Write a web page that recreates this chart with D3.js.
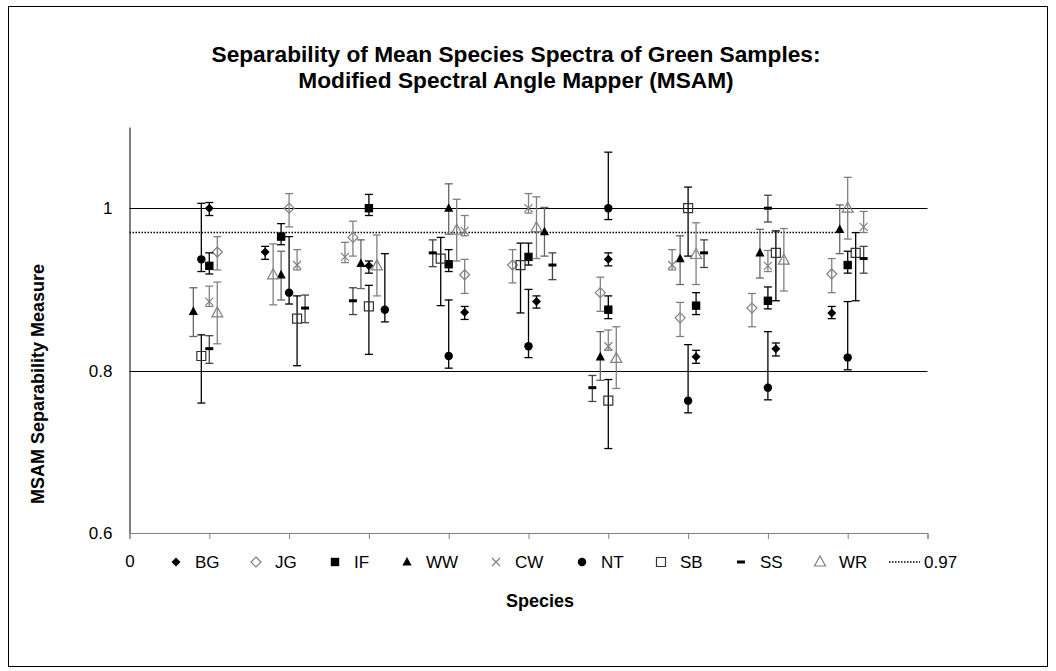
<!DOCTYPE html>
<html>
<head>
<meta charset="utf-8">
<script src="https://cdn.jsdelivr.net/npm/d3@7"></script>
<style>
  body { margin: 0; background: #fff; }
  svg text { font-family: "Liberation Sans", Arial, sans-serif; fill: #000; }
</style>
</head>
<body>
<div id="chart"></div>
<script>
// species (series) in legend order
const species = ["BG", "JG", "IF", "WW", "CW", "NT", "SB", "SS", "WR"];

// x position of every point, one row per species, one column per group
const xPositions = [
    [1.0, 1.7, 3.0, 4.2, 5.1, 6.0, 7.1, 8.1, 8.8],
    [1.1, 2.0, 2.8, 4.2, 4.8, 5.9, 6.9, 7.8, 8.8],
    [1.0, 1.9, 3.0, 4.0, 5.0, 6.0, 7.1, 8.0, 9.0],
    [0.8, 1.9, 2.9, 4.0, 5.2, 5.9, 6.9, 7.9, 8.9],
    [1.0, 2.1, 2.7, 4.2, 5.0, 6.0, 6.8, 8.0, 9.2],
    [0.9, 2.0, 3.2, 4.0, 5.0, 6.0, 7.0, 8.0, 9.0],
    [0.9, 2.1, 3.0, 3.9, 4.9, 6.0, 7.0, 8.1, 9.1],
    [1.0, 2.2, 2.8, 3.8, 5.3, 5.8, 7.2, 8.0, 9.2],
    [1.1, 1.8, 3.1, 4.1, 5.1, 6.1, 7.1, 8.2, 9.0]
];

// mean MSAM separability
const means = [
    [1.000, 0.946, 0.929, 0.872, 0.885, 0.937, 0.817, 0.827, 0.871],
    [0.946, 1.000, 0.964, 0.918, 0.930, 0.896, 0.865, 0.877, 0.919],
    [0.929, 0.965, 1.000, 0.931, 0.940, 0.875, 0.880, 0.886, 0.930],
    [0.873, 0.918, 0.932, 1.000, 0.971, 0.817, 0.938, 0.945, 0.974],
    [0.885, 0.930, 0.940, 0.972, 1.000, 0.830, 0.930, 0.929, 0.977],
    [0.937, 0.896, 0.875, 0.818, 0.830, 1.000, 0.763, 0.779, 0.816],
    [0.818, 0.864, 0.879, 0.938, 0.930, 0.763, 1.000, 0.945, 0.945],
    [0.827, 0.877, 0.886, 0.945, 0.930, 0.779, 0.945, 1.000, 0.938],
    [0.871, 0.918, 0.929, 0.973, 0.976, 0.815, 0.943, 0.936, 1.000]
];

// top of the error bar
const highs = [
    [1.007, 0.953, 0.935, 0.879, 0.892, 0.945, 0.825, 0.834, 0.879],
    [0.965, 1.018, 0.984, 0.937, 0.949, 0.915, 0.884, 0.895, 0.938],
    [0.945, 0.981, 1.017, 0.949, 0.957, 0.892, 0.896, 0.903, 0.947],
    [0.902, 0.947, 0.961, 1.030, 1.001, 0.848, 0.966, 0.974, 1.004],
    [0.904, 0.949, 0.958, 0.991, 1.018, 0.850, 0.949, 0.948, 0.996],
    [1.006, 0.965, 0.944, 0.887, 0.900, 1.069, 0.832, 0.848, 0.885],
    [0.844, 0.892, 0.905, 0.964, 0.957, 0.789, 1.026, 0.972, 0.970],
    [0.843, 0.893, 0.902, 0.961, 0.945, 0.794, 0.961, 1.016, 0.953],
    [0.909, 0.956, 0.967, 1.011, 1.014, 0.854, 0.982, 0.975, 1.038]
];

// bottom of the error bar
const lows = [
    [0.991, 0.937, 0.920, 0.863, 0.877, 0.929, 0.809, 0.818, 0.864],
    [0.924, 0.977, 0.941, 0.895, 0.908, 0.873, 0.842, 0.854, 0.896],
    [0.919, 0.955, 0.991, 0.922, 0.930, 0.864, 0.869, 0.876, 0.920],
    [0.842, 0.887, 0.901, 0.968, 0.941, 0.788, 0.906, 0.914, 0.944],
    [0.879, 0.924, 0.933, 0.966, 0.994, 0.825, 0.924, 0.922, 0.970],
    [0.922, 0.882, 0.860, 0.803, 0.816, 0.986, 0.748, 0.764, 0.801],
    [0.760, 0.806, 0.820, 0.880, 0.871, 0.704, 0.941, 0.886, 0.886],
    [0.809, 0.859, 0.869, 0.928, 0.912, 0.762, 0.927, 0.983, 0.920],
    [0.833, 0.881, 0.892, 0.935, 0.938, 0.778, 0.906, 0.898, 0.962]
];

const threshold = 0.97;
const thresholdRange = [0, 8.9];
const yTicks = [0.6, 0.8, 1.0];
const gridValues = [0.8, 1.0];

// marker look per species
const markerStyle = {
    BG: { path: "M0,-4.5L4.5,0L0,4.5L-4.5,0Z", fill: "#000", stroke: "none", bar: "#000" },
    JG: { path: "M0,-5L5,0L0,5L-5,0Z", fill: "none", stroke: "#808080", bar: "#808080" },
    IF: { path: "M-4.2,-4.2H4.2V4.2H-4.2Z", fill: "#000", stroke: "none", bar: "#000" },
    WW: { path: "M0,-5L4.6,3.6L-4.6,3.6Z", fill: "#000", stroke: "none", bar: "#666" },
    CW: { path: "M-4,-4L4,4M4,-4L-4,4", fill: "none", stroke: "#808080", bar: "#808080" },
    NT: { path: d3.symbol(d3.symbolCircle, 56)(), fill: "#000", stroke: "none", bar: "#000" },
    SB: { path: "M-4.5,-4.5H4.5V4.5H-4.5Z", fill: "none", stroke: "#333", bar: "#000" },
    SS: { path: "M-4,-1.5H4V1.5H-4Z", fill: "#000", stroke: "none", bar: "#444" },
    WR: { path: "M0,-6L5.5,4L-5.5,4Z", fill: "none", stroke: "#808080", bar: "#808080" }
};

const W = 1056, H = 671;
const svg = d3.select("#chart").append("svg")
    .attr("width", W)
    .attr("height", H);

// outer chart border
svg.append("rect")
    .attr("x", 8.5).attr("y", 6.5)
    .attr("width", 1039).attr("height", 660)
    .attr("fill", "#fff").attr("stroke", "#000").attr("stroke-width", 1);

const xScale = d3.scaleLinear().domain([0, 10]).range([129.5, 927.5]);
const yScale = d3.scaleLinear().domain([0.6, 1.1]).range([533, 127]);

// title
svg.append("text")
    .attr("x", 516).attr("y", 0)
    .attr("text-anchor", "middle")
    .style("font-size", "22.7px").style("font-weight", "bold")
    .selectAll("tspan")
    .data(["Separability of Mean Species Spectra of Green Samples:", "Modified Spectral Angle Mapper (MSAM)"])
    .enter().append("tspan")
    .attr("x", 516)
    .attr("y", (d, i) => 62 + i * 26)
    .text(d => d);

// gridlines
svg.selectAll(".grid")
    .data(gridValues)
    .enter().append("line")
    .attr("class", "grid")
    .attr("x1", xScale(0)).attr("x2", xScale(10))
    .attr("y1", d => Math.round(yScale(d)) + 0.5)
    .attr("y2", d => Math.round(yScale(d)) + 0.5)
    .attr("stroke", "#000").attr("stroke-width", 1);

// y axis
const yAxis = svg.append("g")
    .attr("transform", `translate(${xScale(0)},0)`)
    .call(d3.axisLeft(yScale)
        .tickValues(yTicks)
        .tickSize(0)
        .tickSizeOuter(0)
        .tickPadding(17)
        .tickFormat(d => d === 1 ? "1" : d3.format(".1f")(d)));
yAxis.select(".domain").attr("stroke", "#000");
yAxis.selectAll("text").style("font-size", "17px").style("font-family", "Liberation Sans, Arial, sans-serif");

// x axis (only the 0 label is left visible, legend sits on top of the rest)
const xAxis = svg.append("g")
    .attr("transform", `translate(0,${yScale(0.6)})`)
    .call(d3.axisBottom(xScale)
        .ticks(10)
        .tickSize(6)
        .tickSizeOuter(6)
        .tickPadding(16)
        .tickFormat(d => d === 0 ? "0" : ""));
xAxis.select(".domain").attr("stroke", "#808080");
xAxis.selectAll(".tick line").attr("stroke", "#808080");
xAxis.selectAll("text").style("font-size", "17px").style("font-family", "Liberation Sans, Arial, sans-serif");

// 0.97 reference line
svg.append("line")
    .attr("x1", xScale(thresholdRange[0])).attr("x2", xScale(thresholdRange[1]))
    .attr("y1", yScale(threshold)).attr("y2", yScale(threshold))
    .attr("stroke", "#000").attr("stroke-width", 1.5)
    .attr("stroke-dasharray", "1.5,1.5");

// series: error bars then markers
species.forEach((sp, s) => {
    const st = markerStyle[sp];
    const pts = means[s].map((m, g) => ({ x: xPositions[s][g], m: m, hi: highs[s][g], lo: lows[s][g] }));
    const g = svg.append("g").attr("class", "series-" + sp);

    const bars = g.selectAll(".err").data(pts).enter().append("g").attr("class", "err")
        .attr("stroke", st.bar).attr("stroke-width", 1.3);
    bars.append("line")
        .attr("x1", d => xScale(d.x)).attr("x2", d => xScale(d.x))
        .attr("y1", d => yScale(d.hi)).attr("y2", d => yScale(d.lo));
    bars.append("line")
        .attr("x1", d => xScale(d.x) - 4).attr("x2", d => xScale(d.x) + 4)
        .attr("y1", d => yScale(d.hi)).attr("y2", d => yScale(d.hi));
    bars.append("line")
        .attr("x1", d => xScale(d.x) - 4).attr("x2", d => xScale(d.x) + 4)
        .attr("y1", d => yScale(d.lo)).attr("y2", d => yScale(d.lo));

    g.selectAll(".mark").data(pts).enter().append("path")
        .attr("class", "mark")
        .attr("transform", d => `translate(${xScale(d.x)},${yScale(d.m)})`)
        .attr("d", st.path)
        .attr("fill", st.fill)
        .attr("stroke", st.stroke)
        .attr("stroke-width", 1.2);
});

// legend
const legendX = [176, 256, 335, 407, 496, 582, 661, 741, 820];
const legendY = 562;
const legend = svg.append("g").attr("class", "legend");
species.forEach((sp, i) => {
    const st = markerStyle[sp];
    legend.append("path")
        .attr("transform", `translate(${legendX[i]},${legendY})`)
        .attr("d", st.path)
        .attr("fill", st.fill)
        .attr("stroke", st.stroke)
        .attr("stroke-width", 1.2);
    legend.append("text")
        .attr("x", legendX[i] + 19).attr("y", legendY + 6)
        .style("font-size", "17px")
        .text(sp);
});
legend.append("line")
    .attr("x1", 889).attr("x2", 920)
    .attr("y1", legendY).attr("y2", legendY)
    .attr("stroke", "#000").attr("stroke-width", 1.5)
    .attr("stroke-dasharray", "1.5,1.5");
legend.append("text")
    .attr("x", 924).attr("y", legendY + 6)
    .style("font-size", "17px")
    .text("0.97");

// axis titles
svg.append("text")
    .attr("x", 540).attr("y", 607)
    .attr("text-anchor", "middle")
    .style("font-size", "18px").style("font-weight", "bold")
    .text("Species");

svg.append("text")
    .attr("transform", "translate(44,384) rotate(-90)")
    .attr("text-anchor", "middle")
    .style("font-size", "18px").style("font-weight", "bold")
    .text("MSAM Separability Measure");
</script>
</body>
</html>
